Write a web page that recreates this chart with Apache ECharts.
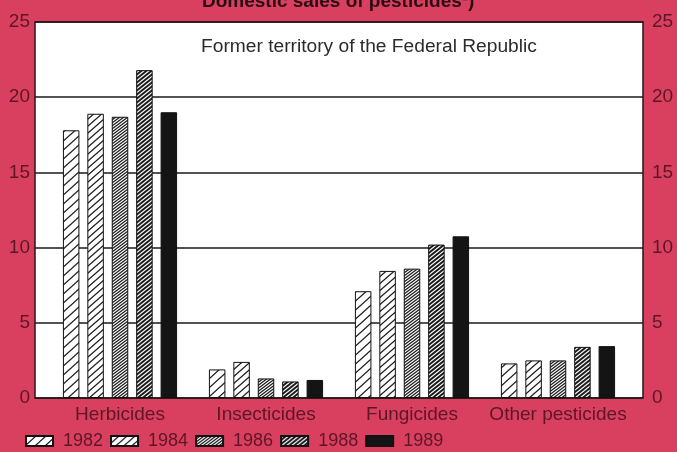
<!DOCTYPE html>
<html>
<head>
<meta charset="utf-8">
<script src="https://cdn.jsdelivr.net/npm/echarts@6/dist/echarts.min.js"></script>
<style>
body{margin:0;background:#d9405f;overflow:hidden;}
#myChart{width:677px;height:452px;}
</style>
</head>
<body>
<div id="myChart"></div>
<script>
// data (thousand tonnes)
var categories = ['Herbicides', 'Insecticides', 'Fungicides', 'Other pesticides'];
var years = ['1982', '1984', '1986', '1988', '1989'];
var sales1982 = [17.8, 1.9, 7.1, 2.3];
var sales1984 = [18.9, 2.4, 8.45, 2.5];
var sales1986 = [18.7, 1.3, 8.6, 2.5];
var sales1988 = [21.8, 1.1, 10.2, 3.4];
var sales1989 = [19.0, 1.2, 10.75, 3.45];
var yTicks = [0, 5, 10, 15, 20, 25];

var maroon = '#5e1526';
var font = 'Liberation Sans, Arial, sans-serif';

// hatch tile: diagonal "/" lines
function hatch(w, h, lw) {
  var c = document.createElement('canvas');
  c.width = w; c.height = h;
  var ctx = c.getContext('2d');
  ctx.fillStyle = '#fff';
  ctx.fillRect(0, 0, w, h);
  ctx.strokeStyle = '#1a1a1a';
  ctx.lineWidth = lw;
  for (var k = -1; k <= 1; k++) {
    ctx.beginPath();
    ctx.moveTo(k * w - w, 2 * h);
    ctx.lineTo(k * w + 2 * w, -h);
    ctx.stroke();
  }
  return {image: c, repeat: 'repeat'};
}

var fills = [
  hatch(10, 9, 1.3),
  hatch(8, 7, 1.3),
  hatch(4, 3, 1.25),
  hatch(5, 4, 1.9),
  '#141414'
];
var seriesData = [sales1982, sales1984, sales1986, sales1988, sales1989];

var series = years.map(function (y, i) {
  return {
    name: y,
    type: 'bar',
    xAxisIndex: 1,
    yAxisIndex: 2,
    barWidth: 16.5,
    barGap: '48%',
    itemStyle: {color: fills[i], borderColor: '#111', borderWidth: 1},
    data: seriesData[i]
  };
});

var myChart = echarts.init(document.getElementById('myChart'));
myChart.setOption({
  animation: false,
  backgroundColor: '#d9405f',
  title: [
    {
      text: 'Domestic sales of pesticides\u00b9)',
      left: 197, top: -13,
      textStyle: {fontFamily: font, fontSize: 19, fontWeight: 'bold', color: '#2a0c14'}
    },
    {
      text: 'Former territory of the Federal Republic',
      left: 196, top: 32,
      textStyle: {fontFamily: font, fontSize: 19.2, fontWeight: 'normal', color: '#2b2b2b'}
    }
  ],
  legend: {
    left: 20, top: 427,
    icon: 'rect',
    itemWidth: 27, itemHeight: 10, itemGap: 7,
    selectedMode: false,
    data: years,
    textStyle: {fontFamily: font, fontSize: 18, color: maroon, padding: [0, 0, 0, 5]}
  },
  grid: [
    // white plot frame with gridlines
    {left: 35, right: 34, top: 22, bottom: 54, show: true, backgroundColor: '#fff',
      borderColor: '#2a1418', borderWidth: 1.5},
    // bars sit a bit inside the frame
    {left: 47, right: 46, top: 22, bottom: 54}
  ],
  xAxis: [
    {gridIndex: 0, type: 'value', min: 0, max: 1, show: false},
    {
      gridIndex: 1, type: 'category', data: categories,
      axisLine: {show: false}, axisTick: {show: false},
      axisLabel: {fontFamily: font, fontSize: 19, color: maroon, margin: 7, interval: 0}
    }
  ],
  yAxis: [
    {
      gridIndex: 0, type: 'value', min: yTicks[0], max: yTicks[yTicks.length - 1], interval: 5,
      position: 'left',
      axisLine: {show: false}, axisTick: {show: false},
      axisLabel: {fontFamily: font, fontSize: 19, color: maroon, margin: 5},
      splitLine: {lineStyle: {color: '#1a1a1a', width: 1.5}}
    },
    {
      gridIndex: 0, type: 'value', min: yTicks[0], max: yTicks[yTicks.length - 1], interval: 5,
      position: 'right',
      axisLine: {show: false}, axisTick: {show: false},
      axisLabel: {fontFamily: font, fontSize: 19, color: maroon, margin: 9},
      splitLine: {show: false}
    },
    {gridIndex: 1, type: 'value', min: 0, max: 25, show: false}
  ],
  series: series
});
</script>
</body>
</html>
